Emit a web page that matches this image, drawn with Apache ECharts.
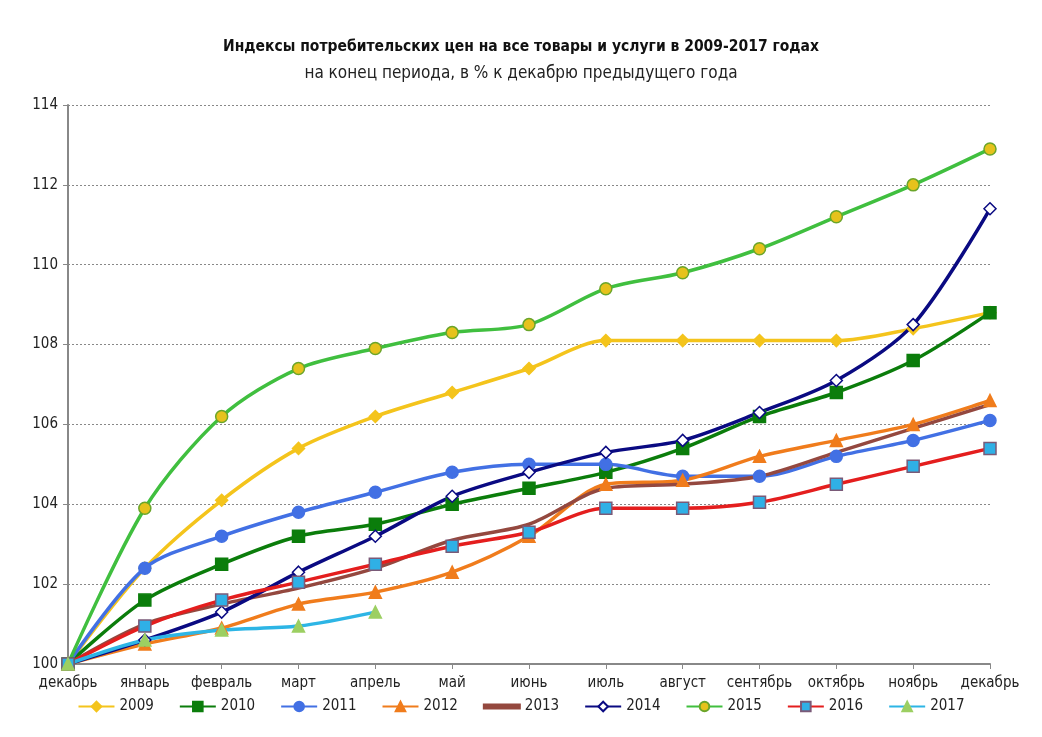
<!DOCTYPE html>
<html>
<head>
<meta charset="utf-8">
<script src="https://cdn.jsdelivr.net/npm/echarts@6/dist/echarts.min.js"></script>
<style>
  html, body { margin: 0; padding: 0; background: #fff; }
  #chart { width: 1042px; height: 737px; }
</style>
</head>
<body>
<div id="chart"></div>
<script>
  // месяцы
  var months = ['декабрь', 'январь', 'февраль', 'март', 'апрель', 'май', 'июнь',
    'июль', 'август', 'сентябрь', 'октябрь', 'ноябрь', 'декабрь'];

  var y2009 = [100, 102.4, 104.1, 105.4, 106.2, 106.8, 107.4, 108.1, 108.1, 108.1, 108.1, 108.4, 108.8];
  var y2010 = [100, 101.6, 102.5, 103.2, 103.5, 104.0, 104.4, 104.8, 105.4, 106.2, 106.8, 107.6, 108.8];
  var y2011 = [100, 102.4, 103.2, 103.8, 104.3, 104.8, 105.0, 105.0, 104.7, 104.7, 105.2, 105.6, 106.1];
  var y2012 = [100, 100.5, 100.9, 101.5, 101.8, 102.3, 103.2, 104.5, 104.6, 105.2, 105.6, 106.0, 106.6];
  var y2013 = [100, 101.0, 101.5, 101.9, 102.4, 103.1, 103.5, 104.4, 104.5, 104.7, 105.3, 105.9, 106.5];
  var y2014 = [100, 100.6, 101.3, 102.3, 103.2, 104.2, 104.8, 105.3, 105.6, 106.3, 107.1, 108.5, 111.4];
  var y2015 = [100, 103.9, 106.2, 107.4, 107.9, 108.3, 108.5, 109.4, 109.8, 110.4, 111.2, 112.0, 112.9];
  var y2016 = [100, 100.95, 101.6, 102.05, 102.5, 102.95, 103.3, 103.9, 103.9, 104.05, 104.5, 104.95, 105.4];
  var y2017 = [100, 100.6, 100.85, 100.95, 101.3];

  var font = '"Liberation Sans Narrow", "DejaVu Sans Condensed", "Open Sans", sans-serif';

  var chart = echarts.init(document.getElementById('chart'));

  function line(name, data, color, symbol, fill, border, size) {
    return {
      name: name,
      type: 'line',
      data: data,
      smooth: 0.3,
      symbol: symbol,
      symbolSize: size,
      showSymbol: symbol !== 'none',
      lineStyle: {color: color, width: 3.5},
      itemStyle: {color: fill, borderColor: border, borderWidth: 1.5},
      emphasis: {disabled: true}
    };
  }

  var option = {
    animation: false,
    backgroundColor: '#fff',
    title: {
      text: 'Индексы потребительских цен на все товары и услуги в 2009-2017 годах',
      subtext: 'на конец периода, в % к декабрю предыдущего года',
      left: 'center',
      top: 34,
      itemGap: 10,
      textStyle: {fontFamily: font, fontSize: 15.5, fontWeight: 'bold', color: '#111'},
      subtextStyle: {fontFamily: font, fontSize: 17, color: '#222'}
    },
    legend: {
      bottom: 18,
      left: 'center',
      itemWidth: 36,
      itemHeight: 12,
      itemGap: 25,
      textStyle: {fontFamily: font, fontSize: 15, color: '#222'},
      data: ['2009', '2010', '2011', '2012',
        {name: '2013', icon: 'path://M0,0 L36,0 L36,4 L0,4 Z'},
        '2014', '2015', '2016', '2017']
    },
    grid: {left: 68, right: 52, top: 105, bottom: 73},
    xAxis: {
      type: 'category',
      data: months,
      boundaryGap: false,
      axisLine: {lineStyle: {color: '#888', width: 2}},
      axisTick: {show: true, length: 5, lineStyle: {color: '#888'}},
      axisLabel: {fontFamily: font, fontSize: 15, color: '#222', margin: 12, interval: 0}
    },
    yAxis: {
      type: 'value',
      min: 100,
      max: 114,
      interval: 2,
      axisLine: {show: true, lineStyle: {color: '#888', width: 2}},
      axisTick: {show: true, length: 5, lineStyle: {color: '#888'}},
      axisLabel: {fontFamily: font, fontSize: 15, color: '#222', margin: 10},
      splitLine: {lineStyle: {color: '#888', type: [2, 2], width: 1}}
    },
    series: [
      line('2009', y2009, '#f4c41c', 'diamond', '#f4c41c', '#f4c41c', 12),
      line('2010', y2010, '#0b7d0b', 'rect', '#0b7d0b', '#0b7d0b', 12),
      line('2011', y2011, '#4270e4', 'circle', '#4270e4', '#4270e4', 12),
      line('2012', y2012, '#f07c1c', 'triangle', '#f07c1c', '#f07c1c', 12),
      line('2013', y2013, '#94483f', 'none', '#94483f', '#94483f', 0),
      line('2014', y2014, '#0a0a82', 'diamond', '#ffffff', '#0a0a82', 12),
      line('2015', y2015, '#40bf3f', 'circle', '#e6c21c', '#6aa52a', 12),
      line('2016', y2016, '#e41e1e', 'rect', '#2fb0e6', '#7a5a78', 12),
      line('2017', y2017, '#2db5e5', 'triangle', '#9ccf62', '#9ccf62', 12)
    ]
  };

  chart.setOption(option);
</script>
</body>
</html>
